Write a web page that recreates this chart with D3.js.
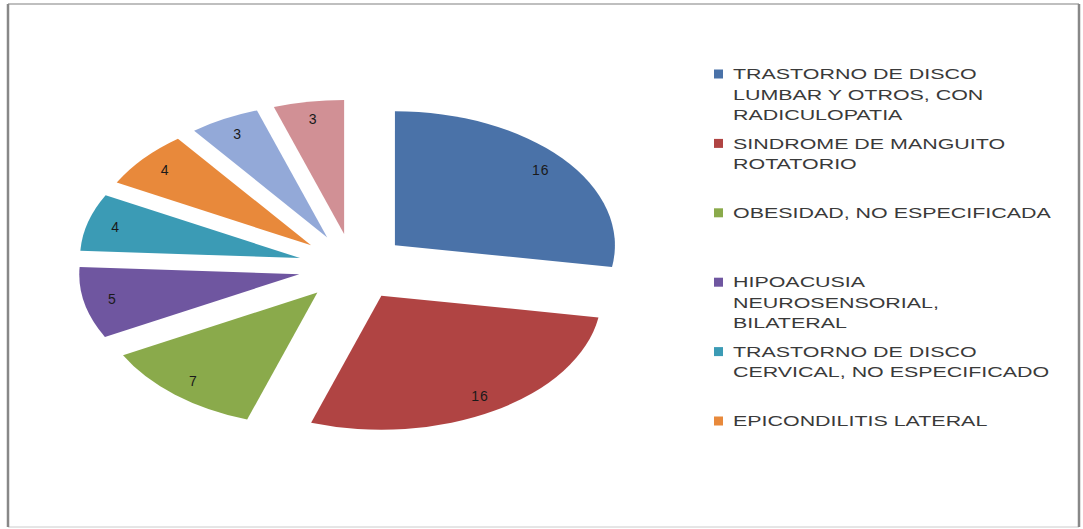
<!DOCTYPE html>
<html>
<head>
<meta charset="utf-8">
<script src="https://cdn.jsdelivr.net/npm/d3@7"></script>
<style>
  html, body { margin: 0; padding: 0; background: #fff; }
  svg { display: block; }
</style>
</head>
<body>
<svg id="chart" width="1083" height="529"></svg>
<script>
// Diagnoses (legend lists the first six)
const categories = [
  ["TRASTORNO DE DISCO", "LUMBAR Y OTROS, CON", "RADICULOPATIA"],
  ["SINDROME DE MANGUITO", "ROTATORIO"],
  ["OBESIDAD, NO ESPECIFICADA"],
  ["HIPOACUSIA", "NEUROSENSORIAL,", "BILATERAL"],
  ["TRASTORNO DE DISCO", "CERVICAL, NO ESPECIFICADO"],
  ["EPICONDILITIS LATERAL"]
];
// Cases per slice, clockwise from 12 o'clock
const values = [16, 16, 7, 5, 4, 4, 3, 3];
const colors = ["#4A72A8", "#B04443", "#8AAA4B", "#6F56A0", "#3B9BB5", "#E8893B", "#93A9D8", "#D19095"];

const svg = d3.select("#chart");

// chart frame
svg.append("line").attr("x1", 8).attr("y1", 4).attr("x2", 1079).attr("y2", 4)
  .attr("stroke", "#aaa").attr("stroke-width", 1.5);
svg.append("line").attr("x1", 8).attr("y1", 527).attr("x2", 1079).attr("y2", 527)
  .attr("stroke", "#ccc").attr("stroke-width", 1);
svg.append("line").attr("x1", 8).attr("y1", 4).attr("x2", 8).attr("y2", 527)
  .attr("stroke", "#888").attr("stroke-width", 2.5);
svg.append("line").attr("x1", 1079).attr("y1", 4).attr("x2", 1079).attr("y2", 527)
  .attr("stroke", "#888").attr("stroke-width", 2.5);

// Pie drawn on a unit circle of radius R, then stretched into an ellipse
const R = 100;
const cx = 353, cy = 267;
const sx = 2.2, sy = 1.34;
const explode = 25;      // offset of every slice along its bisector (circle units)
const labelAt = 0.87;    // label distance from slice tip (fraction of R)

const pie = d3.pie().sort(null).startAngle(0).endAngle(2 * Math.PI);
const arcs = pie(values);
const arc = d3.arc().innerRadius(0).outerRadius(R);

const pieG = svg.append("g")
  .attr("transform", `translate(${cx},${cy}) scale(${sx},${sy})`);

pieG.selectAll("path.slice")
  .data(arcs)
  .join("path")
  .attr("class", "slice")
  .attr("d", arc)
  .attr("fill", (d, i) => colors[i])
  .attr("transform", d => {
    const m = (d.startAngle + d.endAngle) / 2;
    return `translate(${explode * Math.sin(m)},${-explode * Math.cos(m)})`;
  });

// value labels, placed in screen space so the text is not stretched
svg.selectAll("text.val")
  .data(arcs)
  .join("text")
  .attr("class", "val")
  .attr("x", d => {
    const m = (d.startAngle + d.endAngle) / 2;
    return cx + (explode + labelAt * R) * Math.sin(m) * sx;
  })
  .attr("y", d => {
    const m = (d.startAngle + d.endAngle) / 2;
    return cy - (explode + labelAt * R) * Math.cos(m) * sy;
  })
  .attr("text-anchor", "middle")
  .attr("dominant-baseline", "central")
  .attr("font-family", "Liberation Sans, Arial, sans-serif")
  .attr("font-size", 14)
  .attr("letter-spacing", 1)
  .attr("fill", "#1a1a1a")
  .text(d => d.data);

// Legend
const legX = 714, legTextX = 733;
const legTop = 74, slot = 69.4, lineH = 20.5;
const legend = svg.append("g");

const items = legend.selectAll("g.item")
  .data(categories)
  .join("g")
  .attr("class", "item")
  .attr("transform", (d, i) => `translate(0,${legTop + i * slot})`);

items.append("rect")
  .attr("x", legX).attr("y", -4.5)
  .attr("width", 9).attr("height", 9)
  .attr("fill", (d, i) => colors[i]);

const textG = items.append("g")
  .attr("class", "ltext")
  .attr("transform", `translate(${legTextX},0)`);

textG.selectAll("text")
  .data(d => d)
  .join("text")
  .attr("x", 0)
  .attr("y", (d, j) => j * lineH)
  .attr("dominant-baseline", "central")
  .attr("font-family", "Liberation Sans, Arial, sans-serif")
  .attr("font-size", 15)
  .attr("fill", "#3a3a3a")
  .text(d => d);

// widen legend lettering so the longest single-line entry spans its column
const probe = svg.selectAll("g.ltext text").filter(d => d === "OBESIDAD, NO ESPECIFICADA").node();
const kx = probe ? 318 / probe.getComputedTextLength() : 1;
textG.attr("transform", `translate(${legTextX},0) scale(${kx},1)`);
</script>
</body>
</html>
